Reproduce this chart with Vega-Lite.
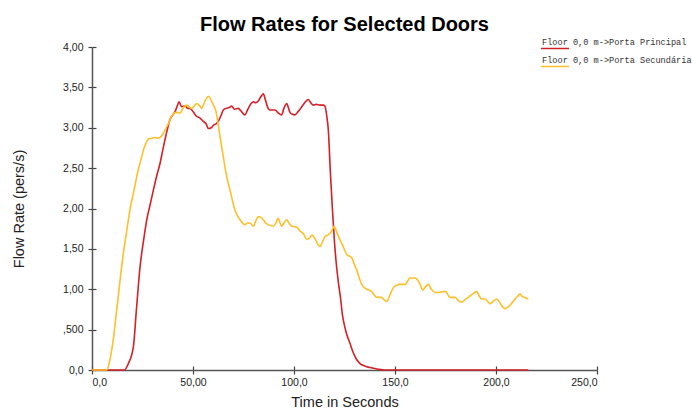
{
  "$schema": "https://vega.github.io/schema/vega-lite/v6.json",
  "width": 505,
  "height": 323,
  "autosize": {"type": "none"},
  "padding": {"left": 92, "top": 47, "right": 95, "bottom": 42},
  "background": "#ffffff",
  "title": {
    "text": "Flow Rates for Selected Doors",
    "font": "Liberation Sans",
    "fontSize": 20,
    "fontWeight": "bold",
    "color": "#000000",
    "anchor": "middle",
    "frame": "group",
    "offset": 19,
    "dy": 21
  },
  "config": {
    "view": {"stroke": null},
    "axis": {
      "grid": false,
      "domainColor": "#555555",
      "domainWidth": 1.5,
      "tickColor": "#444444",
      "tickWidth": 1.2,
      "tickSize": 4,
      "labelFont": "Liberation Sans",
      "labelFontSize": 10.5,
      "labelColor": "#222222",
      "titleFont": "Liberation Sans",
      "titleFontSize": 14.5,
      "titleFontWeight": "normal",
      "titleColor": "#222222"
    }
  },
  "data": {
    "values": [
      {"t": 0, "v": 0, "door": "Floor 0,0 m->Porta Principal"},
      {"t": 16, "v": 0, "door": "Floor 0,0 m->Porta Principal"},
      {"t": 18, "v": 0.08, "door": "Floor 0,0 m->Porta Principal"},
      {"t": 20.5, "v": 0.29, "door": "Floor 0,0 m->Porta Principal"},
      {"t": 22, "v": 0.75, "door": "Floor 0,0 m->Porta Principal"},
      {"t": 23.8, "v": 1.28, "door": "Floor 0,0 m->Porta Principal"},
      {"t": 25.5, "v": 1.6, "door": "Floor 0,0 m->Porta Principal"},
      {"t": 27.1, "v": 1.86, "door": "Floor 0,0 m->Porta Principal"},
      {"t": 28.8, "v": 2.05, "door": "Floor 0,0 m->Porta Principal"},
      {"t": 30.4, "v": 2.23, "door": "Floor 0,0 m->Porta Principal"},
      {"t": 32, "v": 2.4, "door": "Floor 0,0 m->Porta Principal"},
      {"t": 33.7, "v": 2.56, "door": "Floor 0,0 m->Porta Principal"},
      {"t": 35, "v": 2.72, "door": "Floor 0,0 m->Porta Principal"},
      {"t": 36.1, "v": 2.85, "door": "Floor 0,0 m->Porta Principal"},
      {"t": 37.5, "v": 3.0, "door": "Floor 0,0 m->Porta Principal"},
      {"t": 38.6, "v": 3.1, "door": "Floor 0,0 m->Porta Principal"},
      {"t": 40, "v": 3.16, "door": "Floor 0,0 m->Porta Principal"},
      {"t": 41.1, "v": 3.2, "door": "Floor 0,0 m->Porta Principal"},
      {"t": 42.2, "v": 3.27, "door": "Floor 0,0 m->Porta Principal"},
      {"t": 43.1, "v": 3.32, "door": "Floor 0,0 m->Porta Principal"},
      {"t": 44.4, "v": 3.26, "door": "Floor 0,0 m->Porta Principal"},
      {"t": 46, "v": 3.27, "door": "Floor 0,0 m->Porta Principal"},
      {"t": 47.5, "v": 3.24, "door": "Floor 0,0 m->Porta Principal"},
      {"t": 48.5, "v": 3.24, "door": "Floor 0,0 m->Porta Principal"},
      {"t": 50, "v": 3.2, "door": "Floor 0,0 m->Porta Principal"},
      {"t": 51.8, "v": 3.14, "door": "Floor 0,0 m->Porta Principal"},
      {"t": 53.5, "v": 3.12, "door": "Floor 0,0 m->Porta Principal"},
      {"t": 55.1, "v": 3.08, "door": "Floor 0,0 m->Porta Principal"},
      {"t": 56.5, "v": 3.05, "door": "Floor 0,0 m->Porta Principal"},
      {"t": 57.6, "v": 2.99, "door": "Floor 0,0 m->Porta Principal"},
      {"t": 59, "v": 3.0, "door": "Floor 0,0 m->Porta Principal"},
      {"t": 60.1, "v": 3.03, "door": "Floor 0,0 m->Porta Principal"},
      {"t": 61.5, "v": 3.05, "door": "Floor 0,0 m->Porta Principal"},
      {"t": 62.5, "v": 3.08, "door": "Floor 0,0 m->Porta Principal"},
      {"t": 64, "v": 3.16, "door": "Floor 0,0 m->Porta Principal"},
      {"t": 65, "v": 3.22, "door": "Floor 0,0 m->Porta Principal"},
      {"t": 66.5, "v": 3.24, "door": "Floor 0,0 m->Porta Principal"},
      {"t": 68, "v": 3.25, "door": "Floor 0,0 m->Porta Principal"},
      {"t": 69.1, "v": 3.27, "door": "Floor 0,0 m->Porta Principal"},
      {"t": 70.5, "v": 3.23, "door": "Floor 0,0 m->Porta Principal"},
      {"t": 72.4, "v": 3.24, "door": "Floor 0,0 m->Porta Principal"},
      {"t": 74, "v": 3.2, "door": "Floor 0,0 m->Porta Principal"},
      {"t": 75.7, "v": 3.16, "door": "Floor 0,0 m->Porta Principal"},
      {"t": 77, "v": 3.22, "door": "Floor 0,0 m->Porta Principal"},
      {"t": 78.5, "v": 3.29, "door": "Floor 0,0 m->Porta Principal"},
      {"t": 79.9, "v": 3.32, "door": "Floor 0,0 m->Porta Principal"},
      {"t": 81, "v": 3.31, "door": "Floor 0,0 m->Porta Principal"},
      {"t": 82.3, "v": 3.33, "door": "Floor 0,0 m->Porta Principal"},
      {"t": 83.5, "v": 3.38, "door": "Floor 0,0 m->Porta Principal"},
      {"t": 84.8, "v": 3.42, "door": "Floor 0,0 m->Porta Principal"},
      {"t": 86, "v": 3.33, "door": "Floor 0,0 m->Porta Principal"},
      {"t": 87, "v": 3.25, "door": "Floor 0,0 m->Porta Principal"},
      {"t": 88.1, "v": 3.22, "door": "Floor 0,0 m->Porta Principal"},
      {"t": 90.6, "v": 3.22, "door": "Floor 0,0 m->Porta Principal"},
      {"t": 92.3, "v": 3.18, "door": "Floor 0,0 m->Porta Principal"},
      {"t": 93.9, "v": 3.16, "door": "Floor 0,0 m->Porta Principal"},
      {"t": 95, "v": 3.24, "door": "Floor 0,0 m->Porta Principal"},
      {"t": 96.4, "v": 3.3, "door": "Floor 0,0 m->Porta Principal"},
      {"t": 97.2, "v": 3.25, "door": "Floor 0,0 m->Porta Principal"},
      {"t": 98, "v": 3.19, "door": "Floor 0,0 m->Porta Principal"},
      {"t": 99, "v": 3.17, "door": "Floor 0,0 m->Porta Principal"},
      {"t": 100.5, "v": 3.16, "door": "Floor 0,0 m->Porta Principal"},
      {"t": 102, "v": 3.2, "door": "Floor 0,0 m->Porta Principal"},
      {"t": 103, "v": 3.23, "door": "Floor 0,0 m->Porta Principal"},
      {"t": 105, "v": 3.3, "door": "Floor 0,0 m->Porta Principal"},
      {"t": 107.1, "v": 3.35, "door": "Floor 0,0 m->Porta Principal"},
      {"t": 108.3, "v": 3.31, "door": "Floor 0,0 m->Porta Principal"},
      {"t": 109.6, "v": 3.28, "door": "Floor 0,0 m->Porta Principal"},
      {"t": 111, "v": 3.29, "door": "Floor 0,0 m->Porta Principal"},
      {"t": 112.9, "v": 3.28, "door": "Floor 0,0 m->Porta Principal"},
      {"t": 114.5, "v": 3.28, "door": "Floor 0,0 m->Porta Principal"},
      {"t": 115.3, "v": 3.27, "door": "Floor 0,0 m->Porta Principal"},
      {"t": 116.2, "v": 3.15, "door": "Floor 0,0 m->Porta Principal"},
      {"t": 117, "v": 2.97, "door": "Floor 0,0 m->Porta Principal"},
      {"t": 118, "v": 2.45, "door": "Floor 0,0 m->Porta Principal"},
      {"t": 119, "v": 2.0, "door": "Floor 0,0 m->Porta Principal"},
      {"t": 120, "v": 1.6, "door": "Floor 0,0 m->Porta Principal"},
      {"t": 121, "v": 1.3, "door": "Floor 0,0 m->Porta Principal"},
      {"t": 122, "v": 1.08, "door": "Floor 0,0 m->Porta Principal"},
      {"t": 123, "v": 0.9, "door": "Floor 0,0 m->Porta Principal"},
      {"t": 124, "v": 0.68, "door": "Floor 0,0 m->Porta Principal"},
      {"t": 125, "v": 0.55, "door": "Floor 0,0 m->Porta Principal"},
      {"t": 126, "v": 0.45, "door": "Floor 0,0 m->Porta Principal"},
      {"t": 127.7, "v": 0.33, "door": "Floor 0,0 m->Porta Principal"},
      {"t": 129.4, "v": 0.21, "door": "Floor 0,0 m->Porta Principal"},
      {"t": 131, "v": 0.13, "door": "Floor 0,0 m->Porta Principal"},
      {"t": 132.7, "v": 0.08, "door": "Floor 0,0 m->Porta Principal"},
      {"t": 135, "v": 0.05, "door": "Floor 0,0 m->Porta Principal"},
      {"t": 137.6, "v": 0.03, "door": "Floor 0,0 m->Porta Principal"},
      {"t": 141.6, "v": 0.01, "door": "Floor 0,0 m->Porta Principal"},
      {"t": 145, "v": 0, "door": "Floor 0,0 m->Porta Principal"},
      {"t": 216, "v": 0, "door": "Floor 0,0 m->Porta Principal"},
      {"t": 0, "v": 0, "door": "Floor 0,0 m->Porta Secundária"},
      {"t": 7.3, "v": 0, "door": "Floor 0,0 m->Porta Secundária"},
      {"t": 8.8, "v": 0.12, "door": "Floor 0,0 m->Porta Secundária"},
      {"t": 10.5, "v": 0.37, "door": "Floor 0,0 m->Porta Secundária"},
      {"t": 11.8, "v": 0.65, "door": "Floor 0,0 m->Porta Secundária"},
      {"t": 13, "v": 0.91, "door": "Floor 0,0 m->Porta Secundária"},
      {"t": 14.2, "v": 1.18, "door": "Floor 0,0 m->Porta Secundária"},
      {"t": 15.5, "v": 1.44, "door": "Floor 0,0 m->Porta Secundária"},
      {"t": 16.8, "v": 1.66, "door": "Floor 0,0 m->Porta Secundária"},
      {"t": 18, "v": 1.86, "door": "Floor 0,0 m->Porta Secundária"},
      {"t": 19.2, "v": 2.04, "door": "Floor 0,0 m->Porta Secundária"},
      {"t": 20.5, "v": 2.19, "door": "Floor 0,0 m->Porta Secundária"},
      {"t": 21.7, "v": 2.34, "door": "Floor 0,0 m->Porta Secundária"},
      {"t": 22.9, "v": 2.48, "door": "Floor 0,0 m->Porta Secundária"},
      {"t": 24.2, "v": 2.6, "door": "Floor 0,0 m->Porta Secundária"},
      {"t": 25.4, "v": 2.72, "door": "Floor 0,0 m->Porta Secundária"},
      {"t": 26.6, "v": 2.8, "door": "Floor 0,0 m->Porta Secundária"},
      {"t": 27.9, "v": 2.86, "door": "Floor 0,0 m->Porta Secundária"},
      {"t": 29.5, "v": 2.87, "door": "Floor 0,0 m->Porta Secundária"},
      {"t": 31.2, "v": 2.88, "door": "Floor 0,0 m->Porta Secundária"},
      {"t": 32.5, "v": 2.87, "door": "Floor 0,0 m->Porta Secundária"},
      {"t": 33.7, "v": 2.88, "door": "Floor 0,0 m->Porta Secundária"},
      {"t": 35, "v": 2.92, "door": "Floor 0,0 m->Porta Secundária"},
      {"t": 36.1, "v": 2.97, "door": "Floor 0,0 m->Porta Secundária"},
      {"t": 37.8, "v": 3.05, "door": "Floor 0,0 m->Porta Secundária"},
      {"t": 39.4, "v": 3.14, "door": "Floor 0,0 m->Porta Secundária"},
      {"t": 40.6, "v": 3.18, "door": "Floor 0,0 m->Porta Secundária"},
      {"t": 41.9, "v": 3.19, "door": "Floor 0,0 m->Porta Secundária"},
      {"t": 43.6, "v": 3.18, "door": "Floor 0,0 m->Porta Secundária"},
      {"t": 45, "v": 3.24, "door": "Floor 0,0 m->Porta Secundária"},
      {"t": 46.9, "v": 3.28, "door": "Floor 0,0 m->Porta Secundária"},
      {"t": 48, "v": 3.26, "door": "Floor 0,0 m->Porta Secundária"},
      {"t": 49.4, "v": 3.24, "door": "Floor 0,0 m->Porta Secundária"},
      {"t": 50.6, "v": 3.27, "door": "Floor 0,0 m->Porta Secundária"},
      {"t": 51.8, "v": 3.3, "door": "Floor 0,0 m->Porta Secundária"},
      {"t": 53, "v": 3.28, "door": "Floor 0,0 m->Porta Secundária"},
      {"t": 54.3, "v": 3.24, "door": "Floor 0,0 m->Porta Secundária"},
      {"t": 55.1, "v": 3.28, "door": "Floor 0,0 m->Porta Secundária"},
      {"t": 55.9, "v": 3.33, "door": "Floor 0,0 m->Porta Secundária"},
      {"t": 56.8, "v": 3.37, "door": "Floor 0,0 m->Porta Secundária"},
      {"t": 57.6, "v": 3.39, "door": "Floor 0,0 m->Porta Secundária"},
      {"t": 58.4, "v": 3.37, "door": "Floor 0,0 m->Porta Secundária"},
      {"t": 59.2, "v": 3.33, "door": "Floor 0,0 m->Porta Secundária"},
      {"t": 60.3, "v": 3.27, "door": "Floor 0,0 m->Porta Secundária"},
      {"t": 61.4, "v": 3.2, "door": "Floor 0,0 m->Porta Secundária"},
      {"t": 62.4, "v": 3.05, "door": "Floor 0,0 m->Porta Secundária"},
      {"t": 63.4, "v": 2.89, "door": "Floor 0,0 m->Porta Secundária"},
      {"t": 64.6, "v": 2.7, "door": "Floor 0,0 m->Porta Secundária"},
      {"t": 65.8, "v": 2.52, "door": "Floor 0,0 m->Porta Secundária"},
      {"t": 67, "v": 2.36, "door": "Floor 0,0 m->Porta Secundária"},
      {"t": 68.3, "v": 2.23, "door": "Floor 0,0 m->Porta Secundária"},
      {"t": 69.5, "v": 2.1, "door": "Floor 0,0 m->Porta Secundária"},
      {"t": 70.8, "v": 1.98, "door": "Floor 0,0 m->Porta Secundária"},
      {"t": 72, "v": 1.91, "door": "Floor 0,0 m->Porta Secundária"},
      {"t": 73.3, "v": 1.86, "door": "Floor 0,0 m->Porta Secundária"},
      {"t": 74.5, "v": 1.82, "door": "Floor 0,0 m->Porta Secundária"},
      {"t": 75.7, "v": 1.8, "door": "Floor 0,0 m->Porta Secundária"},
      {"t": 77, "v": 1.82, "door": "Floor 0,0 m->Porta Secundária"},
      {"t": 78.2, "v": 1.82, "door": "Floor 0,0 m->Porta Secundária"},
      {"t": 79.9, "v": 1.78, "door": "Floor 0,0 m->Porta Secundária"},
      {"t": 81, "v": 1.84, "door": "Floor 0,0 m->Porta Secundária"},
      {"t": 82.3, "v": 1.9, "door": "Floor 0,0 m->Porta Secundária"},
      {"t": 83.5, "v": 1.89, "door": "Floor 0,0 m->Porta Secundária"},
      {"t": 84.8, "v": 1.86, "door": "Floor 0,0 m->Porta Secundária"},
      {"t": 86, "v": 1.82, "door": "Floor 0,0 m->Porta Secundária"},
      {"t": 87.3, "v": 1.8, "door": "Floor 0,0 m->Porta Secundária"},
      {"t": 89.8, "v": 1.78, "door": "Floor 0,0 m->Porta Secundária"},
      {"t": 91, "v": 1.82, "door": "Floor 0,0 m->Porta Secundária"},
      {"t": 92.2, "v": 1.88, "door": "Floor 0,0 m->Porta Secundária"},
      {"t": 93, "v": 1.83, "door": "Floor 0,0 m->Porta Secundária"},
      {"t": 93.9, "v": 1.78, "door": "Floor 0,0 m->Porta Secundária"},
      {"t": 95, "v": 1.82, "door": "Floor 0,0 m->Porta Secundária"},
      {"t": 96.4, "v": 1.86, "door": "Floor 0,0 m->Porta Secundária"},
      {"t": 97.5, "v": 1.82, "door": "Floor 0,0 m->Porta Secundária"},
      {"t": 98.9, "v": 1.78, "door": "Floor 0,0 m->Porta Secundária"},
      {"t": 101.3, "v": 1.77, "door": "Floor 0,0 m->Porta Secundária"},
      {"t": 103, "v": 1.72, "door": "Floor 0,0 m->Porta Secundária"},
      {"t": 104.6, "v": 1.69, "door": "Floor 0,0 m->Porta Secundária"},
      {"t": 106.3, "v": 1.62, "door": "Floor 0,0 m->Porta Secundária"},
      {"t": 107.5, "v": 1.63, "door": "Floor 0,0 m->Porta Secundária"},
      {"t": 109, "v": 1.67, "door": "Floor 0,0 m->Porta Secundária"},
      {"t": 110.5, "v": 1.62, "door": "Floor 0,0 m->Porta Secundária"},
      {"t": 112, "v": 1.55, "door": "Floor 0,0 m->Porta Secundária"},
      {"t": 112.9, "v": 1.53, "door": "Floor 0,0 m->Porta Secundária"},
      {"t": 114, "v": 1.58, "door": "Floor 0,0 m->Porta Secundária"},
      {"t": 115.3, "v": 1.65, "door": "Floor 0,0 m->Porta Secundária"},
      {"t": 116.5, "v": 1.67, "door": "Floor 0,0 m->Porta Secundária"},
      {"t": 117.8, "v": 1.69, "door": "Floor 0,0 m->Porta Secundária"},
      {"t": 119, "v": 1.74, "door": "Floor 0,0 m->Porta Secundária"},
      {"t": 119.8, "v": 1.78, "door": "Floor 0,0 m->Porta Secundária"},
      {"t": 121, "v": 1.72, "door": "Floor 0,0 m->Porta Secundária"},
      {"t": 122.8, "v": 1.61, "door": "Floor 0,0 m->Porta Secundária"},
      {"t": 124.5, "v": 1.52, "door": "Floor 0,0 m->Porta Secundária"},
      {"t": 126.1, "v": 1.43, "door": "Floor 0,0 m->Porta Secundária"},
      {"t": 127.5, "v": 1.41, "door": "Floor 0,0 m->Porta Secundária"},
      {"t": 128.6, "v": 1.39, "door": "Floor 0,0 m->Porta Secundária"},
      {"t": 130, "v": 1.3, "door": "Floor 0,0 m->Porta Secundária"},
      {"t": 131, "v": 1.24, "door": "Floor 0,0 m->Porta Secundária"},
      {"t": 132.3, "v": 1.14, "door": "Floor 0,0 m->Porta Secundária"},
      {"t": 133.5, "v": 1.06, "door": "Floor 0,0 m->Porta Secundária"},
      {"t": 134.8, "v": 1.02, "door": "Floor 0,0 m->Porta Secundária"},
      {"t": 136, "v": 1.0, "door": "Floor 0,0 m->Porta Secundária"},
      {"t": 138.5, "v": 0.97, "door": "Floor 0,0 m->Porta Secundária"},
      {"t": 139.7, "v": 0.93, "door": "Floor 0,0 m->Porta Secundária"},
      {"t": 140.9, "v": 0.9, "door": "Floor 0,0 m->Porta Secundária"},
      {"t": 143.4, "v": 0.9, "door": "Floor 0,0 m->Porta Secundária"},
      {"t": 144.6, "v": 0.87, "door": "Floor 0,0 m->Porta Secundária"},
      {"t": 145.9, "v": 0.85, "door": "Floor 0,0 m->Porta Secundária"},
      {"t": 147.5, "v": 0.93, "door": "Floor 0,0 m->Porta Secundária"},
      {"t": 149.2, "v": 1.02, "door": "Floor 0,0 m->Porta Secundária"},
      {"t": 150.8, "v": 1.05, "door": "Floor 0,0 m->Porta Secundária"},
      {"t": 152.5, "v": 1.06, "door": "Floor 0,0 m->Porta Secundária"},
      {"t": 155, "v": 1.06, "door": "Floor 0,0 m->Porta Secundária"},
      {"t": 156.2, "v": 1.1, "door": "Floor 0,0 m->Porta Secundária"},
      {"t": 157.4, "v": 1.14, "door": "Floor 0,0 m->Porta Secundária"},
      {"t": 159.9, "v": 1.14, "door": "Floor 0,0 m->Porta Secundária"},
      {"t": 161.6, "v": 1.1, "door": "Floor 0,0 m->Porta Secundária"},
      {"t": 162.6, "v": 1.05, "door": "Floor 0,0 m->Porta Secundária"},
      {"t": 163.7, "v": 0.99, "door": "Floor 0,0 m->Porta Secundária"},
      {"t": 165, "v": 1.03, "door": "Floor 0,0 m->Porta Secundária"},
      {"t": 166.5, "v": 1.06, "door": "Floor 0,0 m->Porta Secundária"},
      {"t": 168, "v": 1.0, "door": "Floor 0,0 m->Porta Secundária"},
      {"t": 169.8, "v": 0.96, "door": "Floor 0,0 m->Porta Secundária"},
      {"t": 172.3, "v": 0.96, "door": "Floor 0,0 m->Porta Secundária"},
      {"t": 173.5, "v": 0.97, "door": "Floor 0,0 m->Porta Secundária"},
      {"t": 175.2, "v": 0.97, "door": "Floor 0,0 m->Porta Secundária"},
      {"t": 176.2, "v": 0.93, "door": "Floor 0,0 m->Porta Secundária"},
      {"t": 177.2, "v": 0.9, "door": "Floor 0,0 m->Porta Secundária"},
      {"t": 179.7, "v": 0.9, "door": "Floor 0,0 m->Porta Secundária"},
      {"t": 181.3, "v": 0.86, "door": "Floor 0,0 m->Porta Secundária"},
      {"t": 183, "v": 0.84, "door": "Floor 0,0 m->Porta Secundária"},
      {"t": 184.6, "v": 0.87, "door": "Floor 0,0 m->Porta Secundária"},
      {"t": 186.3, "v": 0.9, "door": "Floor 0,0 m->Porta Secundária"},
      {"t": 188.3, "v": 0.94, "door": "Floor 0,0 m->Porta Secundária"},
      {"t": 190.4, "v": 0.97, "door": "Floor 0,0 m->Porta Secundária"},
      {"t": 191.6, "v": 0.92, "door": "Floor 0,0 m->Porta Secundária"},
      {"t": 192.9, "v": 0.88, "door": "Floor 0,0 m->Porta Secundária"},
      {"t": 194.6, "v": 0.88, "door": "Floor 0,0 m->Porta Secundária"},
      {"t": 195.8, "v": 0.85, "door": "Floor 0,0 m->Porta Secundária"},
      {"t": 197, "v": 0.82, "door": "Floor 0,0 m->Porta Secundária"},
      {"t": 198.6, "v": 0.85, "door": "Floor 0,0 m->Porta Secundária"},
      {"t": 200.3, "v": 0.88, "door": "Floor 0,0 m->Porta Secundária"},
      {"t": 202, "v": 0.83, "door": "Floor 0,0 m->Porta Secundária"},
      {"t": 203.3, "v": 0.78, "door": "Floor 0,0 m->Porta Secundária"},
      {"t": 204.5, "v": 0.76, "door": "Floor 0,0 m->Porta Secundária"},
      {"t": 206, "v": 0.78, "door": "Floor 0,0 m->Porta Secundária"},
      {"t": 206.9, "v": 0.8, "door": "Floor 0,0 m->Porta Secundária"},
      {"t": 208.5, "v": 0.85, "door": "Floor 0,0 m->Porta Secundária"},
      {"t": 210.2, "v": 0.9, "door": "Floor 0,0 m->Porta Secundária"},
      {"t": 211.9, "v": 0.94, "door": "Floor 0,0 m->Porta Secundária"},
      {"t": 213, "v": 0.91, "door": "Floor 0,0 m->Porta Secundária"},
      {"t": 213.9, "v": 0.9, "door": "Floor 0,0 m->Porta Secundária"},
      {"t": 216, "v": 0.88, "door": "Floor 0,0 m->Porta Secundária"}
    ]
  },
  "resolve": {"axis": {"x": "independent", "y": "independent"}},
  "layer": [
    {
      "mark": {"type": "point", "opacity": 0},
      "encoding": {
        "x": {
          "field": "t",
          "type": "quantitative",
          "scale": {"domain": [0, 250], "nice": false},
          "axis": {"orient": "bottom", "values": [0, 50, 100, 150, 200, 250], "tickSize": -4, "labels": false, "domain": false, "title": null}
        },
        "y": {
          "field": "v",
          "type": "quantitative",
          "scale": {"domain": [0, 4], "nice": false},
          "axis": {"orient": "left", "values": [0, 0.5, 1, 1.5, 2, 2.5, 3, 3.5, 4], "tickSize": -4, "labels": false, "domain": false, "title": null}
        }
      }
    },
    {
      "mark": {"type": "line", "strokeWidth": 1.6, "interpolate": "monotone", "clip": false},
      "encoding": {
        "x": {
          "field": "t",
          "type": "quantitative",
          "scale": {"domain": [0, 250], "nice": false},
          "axis": {
            "orient": "bottom",
            "values": [0, 50, 100, 150, 200, 250],
            "title": "Time in Seconds",
            "titlePadding": 8,
            "labelPadding": 3,
            "labelExpr": "datum.value == 0 ? '0,0' : datum.value == 50 ? '50,00' : replace(format(datum.value, '.1f'), '.', ',')"
          }
        },
        "y": {
          "field": "v",
          "type": "quantitative",
          "scale": {"domain": [0, 4], "nice": false},
          "axis": {
            "orient": "left",
            "values": [0, 0.5, 1, 1.5, 2, 2.5, 3, 3.5, 4],
            "title": "Flow Rate (pers/s)",
            "titlePadding": 36,
            "labelPadding": 5,
            "labelExpr": "datum.value == 0 ? '0,0' : datum.value == 0.5 ? ',500' : replace(format(datum.value, '.2f'), '.', ',')"
          }
        },
        "color": {
          "field": "door",
          "type": "nominal",
          "scale": {
            "domain": ["Floor 0,0 m->Porta Principal", "Floor 0,0 m->Porta Secundária"],
            "range": ["#d42027", "#fdc02a"]
          },
          "legend": {
            "title": null,
            "orient": "none",
            "legendX": 448,
            "legendY": -14,
            "symbolType": "M-1,0.5L1,0.5",
            "symbolSize": 784,
            "symbolStrokeWidth": 1.5,
            "symbolFillColor": "transparent",
            "clipHeight": 17,
            "rowPadding": 1,
            "labelOffset": -28,
            "labelFont": "Liberation Mono",
            "labelFontSize": 8.6,
            "labelColor": "#333333",
            "labelLimit": 300
          }
        }
      }
    }
  ]
}
